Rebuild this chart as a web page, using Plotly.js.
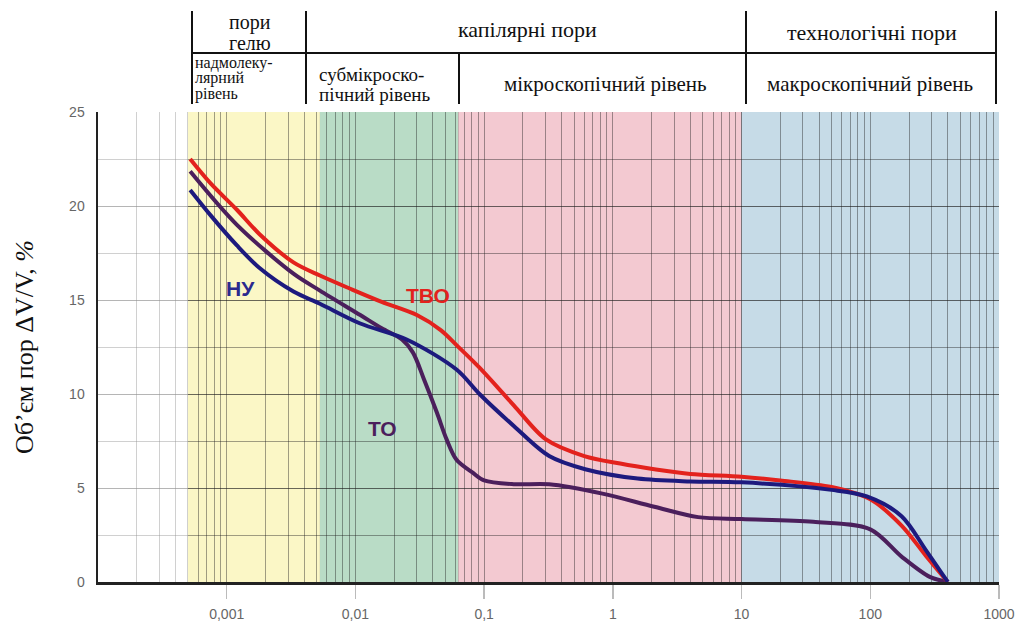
<!DOCTYPE html>
<html><head><meta charset="utf-8">
<script src="https://cdn.plot.ly/plotly-3.0.1.min.js"></script>
<style>html,body{margin:0;padding:0;background:#fff}#chart{width:1032px;height:623px}</style>
</head><body><div id="chart"></div>
<script>
// ---- data ----
const xTickVals = [0.001, 0.01, 0.1, 1, 10, 100, 1000];
const xTickText = ['0,001', '0,01', '0,1', '1', '10', '100', '1000'];
const yTickVals = [0, 5, 10, 15, 20, 25];

// pore size ranges (band edges on x axis)
const bandNames = ['гель', 'субмікро', 'мікро', 'макро'];
const bandStart = [0.0005, 0.0053, 0.063, 10];
const bandEnd   = [0.0053, 0.063, 10, 1000];
const bandColors = ['#fbf7c6', '#b9dcc6', '#f3c9d1', '#c6dbe7'];

// ТВО (red)
const tvoX = [0.00052, 0.00075, 0.0012, 0.0018, 0.0033, 0.0053, 0.0091, 0.016, 0.03, 0.046, 0.061, 0.092, 0.17, 0.3, 0.6, 1.14, 2.1, 4, 10, 20, 50, 100, 175, 270, 400];
const tvoY = [22.5, 21.2, 19.8, 18.5, 17.0, 16.3, 15.6, 14.9, 14.2, 13.4, 12.6, 11.4, 9.4, 7.6, 6.7, 6.3, 6.0, 5.75, 5.6, 5.4, 5.05, 4.4, 3.0, 1.4, 0];
// НУ (blue)
const nuX = [0.00052, 0.00075, 0.0012, 0.0018, 0.0033, 0.0053, 0.0109, 0.025, 0.061, 0.092, 0.17, 0.32, 0.61, 1.56, 4, 10, 50, 94, 175, 270, 400];
const nuY = [20.85, 19.5, 17.9, 16.7, 15.45, 14.8, 13.75, 12.9, 11.3, 10.0, 8.3, 6.7, 6.0, 5.5, 5.35, 5.3, 4.9, 4.55, 3.5, 1.7, 0];
// ТО (purple)
const toX = [0.00052, 0.0012, 0.0033, 0.0053, 0.0109, 0.016, 0.023, 0.028, 0.034, 0.043, 0.051, 0.061, 0.082, 0.1, 0.17, 0.32, 0.83, 2.1, 4.6, 10, 36, 100, 175, 290, 400];
const toY = [21.85, 19.0, 16.4, 15.5, 14.2, 13.5, 12.9, 12.2, 10.8, 9.0, 7.6, 6.5, 5.8, 5.4, 5.2, 5.2, 4.7, 4.0, 3.45, 3.35, 3.2, 2.8, 1.35, 0.27, 0];

const seriesNames = ['ТО', 'ТВО', 'НУ'];
const seriesColors = ['#4b1f5c', '#e3221d', '#1d1a7e'];

// ---- minor grid values (log decades) ----
const minorVals = [];
for (let d = -4; d <= 2; d++) for (let m = 2; m <= 9; m++) minorVals.push(m * Math.pow(10, d));

const mk = (x, y, i) => ({
  x: x, y: y, type: 'scatter', mode: 'lines', name: seriesNames[i],
  line: {color: seriesColors[i], width: 4, shape: 'spline', smoothing: 0.9},
  hoverinfo: 'skip', showlegend: false
});
const traces = [mk(toX, toY, 0), mk(tvoX, tvoY, 1), mk(nuX, nuY, 2)];

const shapes = [];
bandStart.forEach((s, i) => shapes.push({type: 'rect', xref: 'x', yref: 'y', x0: s, x1: bandEnd[i], y0: 0, y1: 25, fillcolor: bandColors[i], line: {width: 0}, layer: 'below'}));
// lighten grid over white region
shapes.push({type: 'rect', xref: 'x', yref: 'y', x0: 0.0001, x1: bandStart[0], y0: 0, y1: 25, fillcolor: 'rgba(255,255,255,0.5)', line: {width: 0}, layer: 'between'});
// dark boundary lines
[bandStart[1], bandStart[2], bandStart[3], 1000].forEach(v => shapes.push({type: 'line', xref: 'x', yref: 'paper', x0: v, x1: v, y0: 0, y1: 1, line: {color: 'rgba(40,40,40,0.85)', width: 2}, layer: 'between'}));

// header table (paper coords)
const P = 470.5, W = 901;
const px = v => (v - 98) / W, py = v => 1 + (112 - v) / P;
const tblLine = (x0, y0, x1, y1) => ({type: 'line', xref: 'paper', yref: 'paper', x0: px(x0), x1: px(x1), y0: py(y0), y1: py(y1), line: {color: '#111', width: 2}});
shapes.push(tblLine(192, 11, 192, 104));
shapes.push(tblLine(306, 11, 306, 104));
shapes.push(tblLine(459, 53, 459, 104));
shapes.push(tblLine(746, 11, 746, 104));
shapes.push(tblLine(996, 11, 996, 104));
shapes.push(tblLine(192, 53, 996, 53));

const serif = {family: 'Liberation Serif, Times New Roman, serif', size: 22, color: '#111'};
const txt = (t, x, y, anchor, size) => ({text: t, xref: 'paper', yref: 'paper', x: px(x), y: py(y), xanchor: anchor || 'center', yanchor: 'middle', showarrow: false, borderpad: 0, font: Object.assign({}, serif, size ? {size: size} : {})});
const annotations = [
  txt('пори', 250, 22, 'center', 20), txt('гелю', 250, 43, 'center', 20),
  txt('капілярні пори', 527, 29),
  txt('технологічні пори', 872, 32),
  txt('надмолеку-', 194, 63, 'left', 16), txt('лярний', 194, 78, 'left', 16), txt('рівень', 194, 94, 'left', 16),
  txt('субмікроско-', 318, 74, 'left', 19), txt('пічний рівень', 318, 94, 'left', 19),
  txt('мікроскопічний рівень', 605, 84, 'center', 21),
  txt('макроскопічний рівень', 870, 84, 'center', 21),
];
const lbl = (t, x, y, c) => ({text: '<b>' + t + '</b>', xref: 'paper', yref: 'paper', x: px(x), y: py(y), xanchor: 'center', yanchor: 'middle', showarrow: false, font: {family: 'Liberation Sans, Arial, sans-serif', size: 21, color: c}});
annotations.push(lbl('НУ', 240, 289, '#2b2a8e'));
annotations.push(lbl('ТВО', 428, 296, '#e3221d'));
annotations.push(lbl('ТО', 382, 429, '#4b1f5c'));

const gridC = 'rgba(30,30,30,0.42)';
const layout = {
  width: 1032, height: 623,
  margin: {l: 98, r: 33, t: 112, b: 41},
  paper_bgcolor: '#fff', plot_bgcolor: '#fff',
  showlegend: false,
  xaxis: {
    type: 'log', range: [-4, 3], tickmode: 'array', tickvals: xTickVals, ticktext: xTickText,
    ticks: 'outside', ticklen: 14, tickcolor: '#bbb', tickwidth: 1.5, ticklabelstandoff: 4,
    showgrid: true, gridcolor: gridC, gridwidth: 1,
    minor: {tickmode: 'array', tickvals: minorVals, showgrid: true, gridcolor: gridC, gridwidth: 1, ticks: ''},
    showline: true, linecolor: '#222', linewidth: 2.5, zeroline: false,
    tickfont: {family: 'Liberation Sans, Arial, sans-serif', size: 14, color: '#666'}
  },
  yaxis: {
    range: [0, 25], tickmode: 'array', tickvals: yTickVals,
    showgrid: true, gridcolor: gridC, gridwidth: 1,
    minor: {dtick: 2.5, tick0: 0, showgrid: true, gridcolor: gridC, gridwidth: 1, ticks: ''},
    showline: true, linecolor: '#222', linewidth: 2.5, zeroline: false, ticks: '', ticklabelstandoff: 8,
    tickfont: {family: 'Liberation Sans, Arial, sans-serif', size: 14, color: '#666'},
    title: {text: 'Об’єм пор ΔV/V, <i>%</i>', font: {family: 'Liberation Serif, Times New Roman, serif', size: 26, color: '#111'}, standoff: 28}
  },
  shapes: shapes,
  annotations: annotations
};
Plotly.newPlot('chart', traces, layout, {displayModeBar: false, staticPlot: true});
</script></body></html>
